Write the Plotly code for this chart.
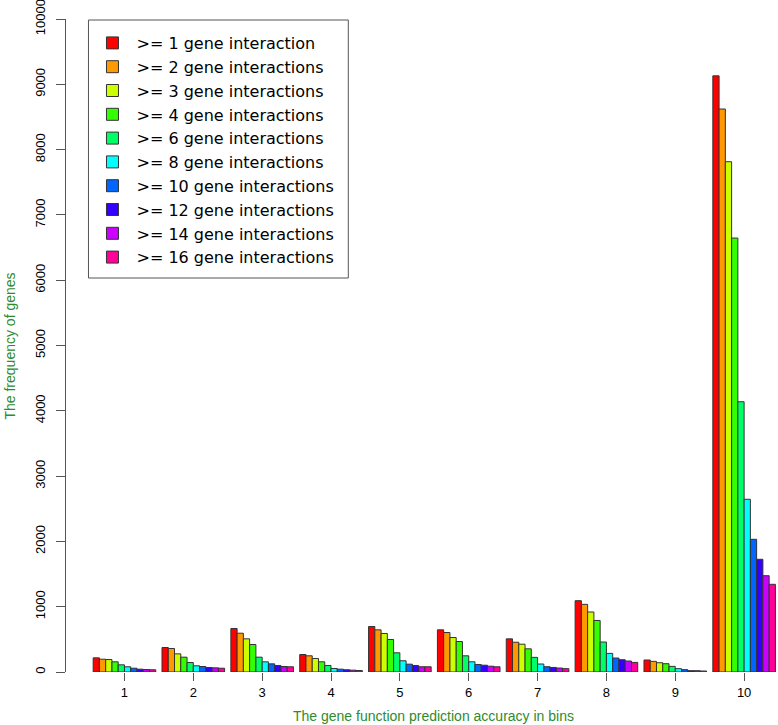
import plotly.graph_objects as go

bins = ["1", "2", "3", "4", "5", "6", "7", "8", "9", "10"]

series_names = [
    ">= 1 gene interaction",
    ">= 2 gene interactions",
    ">= 3 gene interactions",
    ">= 4 gene interactions",
    ">= 6 gene interactions",
    ">= 8 gene interactions",
    ">= 10 gene interactions",
    ">= 12 gene interactions",
    ">= 14 gene interactions",
    ">= 16 gene interactions",
]

colors = ["#FF0000", "#FF9900", "#CCFF00", "#33FF00", "#00FF66",
          "#00FFFF", "#0066FF", "#3300FF", "#CC00FF", "#FF0099"]

# values per series (one value per bin 1..10)
ge1  = [217, 375, 666, 268, 697, 646, 508, 1092, 184, 9130]
ge2  = [196, 360, 594, 248, 646, 605, 456, 1036, 163, 8622]
ge3  = [191, 278, 508, 207, 590, 528, 426, 919, 142, 7815]
ge4  = [156, 227, 421, 156, 498, 467, 355, 789, 127, 6646]
ge6  = [110, 145, 227, 100, 294, 248, 224, 459, 86, 4139]
ge8  = [80, 95, 156, 54, 172, 156, 122, 285, 51, 2645]
ge10 = [58, 84, 125, 43, 120, 115, 81, 214, 36, 2032]
ge12 = [43, 69, 100, 34, 100, 104, 70, 188, 20, 1726]
ge14 = [38, 64, 84, 28, 80, 89, 61, 168, 20, 1475]
ge16 = [34, 58, 80, 23, 80, 80, 51, 147, 15, 1343]

series_values = [ge1, ge2, ge3, ge4, ge6, ge8, ge10, ge12, ge14, ge16]

y_ticks = [0, 1000, 2000, 3000, 4000, 5000, 6000, 7000, 8000, 9000, 10000]

x_title = "The gene function prediction accuracy in bins"
y_title = "The frequency of genes"

FONT = "Arial, Liberation Sans, Helvetica, sans-serif"
LEG_FONT = "DejaVu Sans, Arial, sans-serif"
GREEN = "#2E8B2E"
AXIS_GREY = "#555555"

fig = go.Figure()
for i, (name, vals, col) in enumerate(zip(series_names, series_values, colors)):
    fig.add_trace(go.Bar(
        x=bins, y=vals, name=name,
        marker=dict(color=col, line=dict(color="#333333", width=1)),
    ))

W, H = 778, 725
left, right_px, top, base = 65.5, 778, 19, 672
pw, ph = right_px - left, base - top


def px(x):
    return (x - left) / pw


def py(y):
    return (base - y) / ph


fig.update_layout(
    width=W, height=H,
    margin=dict(l=left, r=W - right_px, t=top, b=H - base, autoexpand=False),
    paper_bgcolor="white", plot_bgcolor="white",
    barmode="group", bargap=1 / 11, bargroupgap=0,
    font=dict(family=FONT, size=13, color="#000000"),
    showlegend=True,
    legend=dict(
        x=px(88), y=py(26), xanchor="left", yanchor="top",
        borderwidth=0, bgcolor="rgba(0,0,0,0)",
        font=dict(family=LEG_FONT, size=16, color="#000000"),
        traceorder="normal", itemwidth=38,
    ),
    xaxis=dict(
        type="category", range=[-0.849, 9.492],
        showline=False, showgrid=False, zeroline=False,
        ticks="outside", ticklen=8, tickcolor=AXIS_GREY, tickwidth=1,
        tickfont=dict(size=13, family=FONT, color="#000000"),
    ),
    yaxis=dict(
        range=[0, 10000.5], tickvals=y_ticks, ticktext=[str(v) for v in y_ticks],
        showline=True, linecolor=AXIS_GREY, linewidth=1,
        showgrid=False, zeroline=False,
        ticks="outside", ticklen=9, tickcolor=AXIS_GREY, tickwidth=1,
        tickangle=-90, ticklabelstandoff=6, ticklabeloverflow="allow",
        tickfont=dict(size=13, family=FONT, color="#000000"),
    ),
    shapes=[dict(
        type="rect", xref="paper", yref="paper",
        x0=px(88), x1=px(348), y0=py(278), y1=py(20),
        line=dict(color=AXIS_GREY, width=1), fillcolor="rgba(0,0,0,0)",
    )],
    annotations=[
        dict(text=x_title, xref="paper", yref="paper", x=px(433), y=py(716),
             xanchor="center", yanchor="middle", showarrow=False,
             font=dict(size=14, family=FONT, color=GREEN)),
        dict(text=y_title, xref="paper", yref="paper", x=px(9), y=py(346),
             xanchor="center", yanchor="middle", showarrow=False, textangle=-90,
             font=dict(size=14, family=FONT, color=GREEN)),
    ],
)

fig.write_html("out.html", config={"displayModeBar": False},
               post_script="document.body.style.margin='0';")
